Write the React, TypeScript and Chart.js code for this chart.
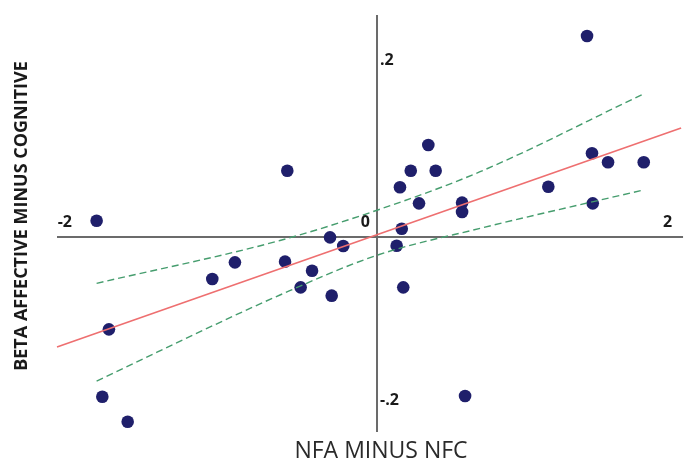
import React, { useEffect, useRef } from "react";
import { Chart, registerables } from "chart.js";

Chart.register(...registerables);

// Scatter data (NFA minus NFC, Beta affective minus cognitive)
const pointX = [1.40, -0.598, -1.869, -1.787, -1.831, -1.662, -1.098, -0.947, -0.613, -0.509, -0.433, -0.313, -0.302, -0.225, 0.131, 0.165, 0.175, 0.153, 0.225, 0.342, 0.391, 0.28, 0.567, 0.567, 0.587, 1.142, 1.433, 1.438, 1.54, 1.778];
const pointY = [0.2365, 0.078, 0.0192, -0.1086, -0.1879, -0.2173, -0.0494, -0.0298, -0.029, -0.0592, -0.0396, -0.0004, -0.069, -0.0106, -0.0102, 0.0098, -0.0592, 0.0585, 0.078, 0.1082, 0.078, 0.0396, 0.0404, 0.0294, -0.187, 0.0592, 0.0985, 0.0396, 0.0879, 0.0879];

// Regression line
const fitX = [-2.133, 2.027];
const fitY = [-0.1294, 0.1282];

// Confidence band
const bandX = [-1.869, -0.647, 0.005, 0.687, 1.775];
const bandUpper = [-0.0545, -0.0041, 0.0318, 0.0768, 0.1682];
const bandLower = [-0.1694, -0.0682, -0.0212, 0.0102, 0.0553];

// Axes
const xAxisExtent = [-2.133, 2.04];
const yAxisExtent = [-0.2294, 0.2612];
const xTickValues = [-2, 0, 2];
const xTickLabels = ["-2", "0", "2"];
const yTickValues = [0.2, -0.2];
const yTickLabels = [".2", "-.2"];

const xTitle = "NFA MINUS NFC";
const yTitle = "BETA AFFECTIVE MINUS COGNITIVE";

const toPts = (xs: number[], ys: number[]) => xs.map((x, i) => ({ x, y: ys[i] }));

export default function App() {
  const ref = useRef<HTMLCanvasElement | null>(null);

  useEffect(() => {
    if (!ref.current) return;

    const axesPlugin = {
      id: "crossAxes",
      beforeDatasetsDraw(chart: any) {
        const { ctx, scales } = chart;
        const xs = scales.x;
        const ys = scales.y;
        const x0 = xs.getPixelForValue(0);
        const y0 = ys.getPixelForValue(0);
        ctx.save();
        ctx.strokeStyle = "#6b6b6b";
        ctx.lineWidth = 2;
        ctx.beginPath();
        ctx.moveTo(xs.getPixelForValue(xAxisExtent[0]), y0);
        ctx.lineTo(xs.getPixelForValue(xAxisExtent[1]), y0);
        ctx.moveTo(x0, ys.getPixelForValue(yAxisExtent[1]));
        ctx.lineTo(x0, ys.getPixelForValue(yAxisExtent[0]));
        ctx.stroke();
        ctx.restore();
      },
      afterDraw(chart: any) {
        const { ctx, scales } = chart;
        const xs = scales.x;
        const ys = scales.y;
        const x0 = xs.getPixelForValue(0);
        const y0 = ys.getPixelForValue(0);
        ctx.save();
        ctx.fillStyle = "#1a1a1a";
        ctx.font = "bold 16px 'Open Sans'";
        ctx.textBaseline = "middle";
        ctx.textAlign = "right";
        xTickValues.forEach((v, i) => {
          ctx.fillText(xTickLabels[i], xs.getPixelForValue(v) - (v === 0 ? 7 : 5), y0 - 15);
        });
        ctx.textAlign = "left";
        yTickValues.forEach((v, i) => {
          ctx.fillText(yTickLabels[i], x0 + 3, ys.getPixelForValue(v) - 7);
        });
        // X title
        ctx.fillStyle = "#2a2a2a";
        ctx.font = "23px 'Open Sans'";
        ctx.textAlign = "center";
        ctx.fillText(xTitle, x0 + 4, ys.getPixelForValue(yAxisExtent[0]) + 19);
        // Y title
        ctx.fillStyle = "#1a1a1a";
        ctx.font = "bold 18px 'Open Sans'";
        ctx.translate(22, 216);
        ctx.rotate(-Math.PI / 2);
        ctx.fillText(yTitle, 0, 0);
        ctx.restore();
      },
    };

    const chart = new Chart(ref.current, {
      type: "scatter",
      data: {
        datasets: [
          {
            data: toPts(fitX, fitY),
            showLine: true,
            borderColor: "#ee6f70",
            borderWidth: 1.6,
            pointRadius: 0,
            order: 0,
          },
          {
            data: toPts(bandX, bandUpper),
            showLine: true,
            borderColor: "#469d6e",
            borderWidth: 1.4,
            borderDash: [7, 4],
            cubicInterpolationMode: "monotone",
            pointRadius: 0,
            order: 0,
          },
          {
            data: toPts(bandX, bandLower),
            showLine: true,
            borderColor: "#469d6e",
            borderWidth: 1.4,
            borderDash: [7, 4],
            cubicInterpolationMode: "monotone",
            pointRadius: 0,
            order: 0,
          },
          {
            data: toPts(pointX, pointY),
            backgroundColor: "#1f1f6b",
            borderColor: "#1f1f6b",
            borderWidth: 0,
            pointRadius: 6.3,
            order: 1,
          },
        ],
      } as any,
      options: {
        animation: false,
        responsive: false,
        layout: { padding: 0, autoPadding: false },
        plugins: { legend: { display: false }, tooltip: { enabled: false } },
        scales: {
          x: { type: "linear", display: false, min: -2.513, max: 2.073 },
          y: { type: "linear", display: false, min: -0.267, max: 0.2788 },
        },
      },
      plugins: [axesPlugin],
    });
    return () => chart.destroy();
  }, []);

  return (
    <div style={{ position: "fixed", left: 0, top: 0, width: 688, height: 464, background: "#fff" }}>
      <canvas ref={ref} width={688} height={464} />
    </div>
  );
}
